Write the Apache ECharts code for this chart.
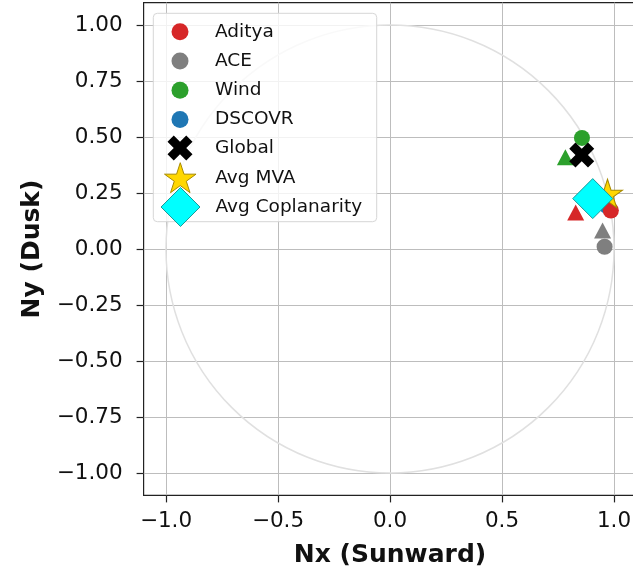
<!DOCTYPE html>
<html>
<head>
<meta charset="utf-8">
<script src="https://cdn.jsdelivr.net/npm/echarts@6/dist/echarts.min.js"></script>
<style>html,body{margin:0;padding:0;background:#fff}#c{width:633px;height:567px}</style>
</head>
<body>
<div id="c"></div>
<script>
// ---- data ----
const spacecraft = ['Aditya', 'ACE', 'Wind', 'DSCOVR'];
const mvaNx = [0.986, 0.958, 0.857, 0.969];
const mvaNy = [0.172, 0.010, 0.496, 0.192];
const copNx = [0.829, 0.949, 0.783, 0.895];
const copNy = [0.163, 0.083, 0.410, 0.215];
const globalNormal = [0.856, 0.420];
const avgMva = [0.971, 0.241];
const avgCoplanarity = [0.905, 0.225];
const unitCircle = [0, 0, 1];
const xTicks = [-1.0, -0.5, 0.0, 0.5, 1.0];
const yTicks = [-1.0, -0.75, -0.5, -0.25, 0.0, 0.25, 0.5, 0.75, 1.0];
const legendNames = ['Aditya', 'ACE', 'Wind', 'DSCOVR', 'Global', 'Avg MVA', 'Avg Coplanarity'];

// ---- styles ----
const scColors = { Aditya: '#d62728', ACE: '#7f7f7f', Wind: '#2ca02c', DSCOVR: '#1f77b4' };
const X_PATH = 'path://M3,0L4,1L3,2L4,3L3,4L2,3L1,4L0,3L1,2L0,1L1,0L2,1Z';
const STAR_PATH = 'path://M100,0L122.45,69.1L195.1,69.1L136.3,111.8L158.8,180.9L100,138.2L41.2,180.9L63.7,111.8L4.9,69.1L77.55,69.1Z';
const FONT = 'DejaVu Sans';
const TXT = '#111';
const minus = s => s.replace('-', '\u2212');

const chart = echarts.init(document.getElementById('c'), null, { renderer: 'canvas' });

const drawOrder = ['DSCOVR', 'Aditya', 'ACE', 'Wind'];
const scSeries = drawOrder.map(name => {
  const i = spacecraft.indexOf(name);
  return {
    type: 'scatter', name, z: 3,
    itemStyle: { color: scColors[name], opacity: 1 },
    data: [
      { value: [mvaNx[i], mvaNy[i]], symbol: 'circle', symbolSize: 16 },
      { value: [copNx[i], copNy[i]], symbol: 'triangle', symbolSize: [17, 16] }
    ]
  };
});

const legendStyle = {
  Aditya: { icon: 'circle', w: 17, h: 17, itemStyle: { color: scColors.Aditya } },
  ACE: { icon: 'circle', w: 17, h: 17, itemStyle: { color: scColors.ACE } },
  Wind: { icon: 'circle', w: 17, h: 17, itemStyle: { color: scColors.Wind } },
  DSCOVR: { icon: 'circle', w: 17, h: 17, itemStyle: { color: scColors.DSCOVR } },
  'Global': { icon: X_PATH, w: 25, h: 25, itemStyle: { color: '#000' } },
  'Avg MVA': { icon: STAR_PATH, w: 32, h: 30, itemStyle: { color: '#ffd700', borderColor: '#a88a00', borderWidth: 1 } },
  'Avg Coplanarity': { icon: 'diamond', w: 39, h: 39, itemStyle: { color: '#00ffff', borderColor: '#1a9a9a', borderWidth: 1 } }
};
const rowY0 = 30.7, rowStep = 29.3, iconCx = 180, textX = 215;
const legends = legendNames.map((name, k) => {
  const st = legendStyle[name];
  const padL = textX - (iconCx + st.w / 2 + 5);
  return {
    left: iconCx - st.w / 2, top: rowY0 + k * rowStep - st.h / 2,
    orient: 'vertical', padding: 0, itemGap: 0, z: 10,
    itemWidth: st.w, itemHeight: st.h, selectedMode: false,
    textStyle: { fontFamily: FONT, fontSize: 18.5, color: TXT, padding: [0, 0, 0, padL] },
    data: [{ name, icon: st.icon, itemStyle: st.itemStyle }]
  };
});

const option = {
  animation: false,
  backgroundColor: '#fff',
  grid: { left: 143.6, top: 2.6, width: 492.8, height: 492.8, outerBoundsMode: 'none', containLabel: false, show: true, borderColor: '#222', borderWidth: 1.2, backgroundColor: 'transparent' },
  legend: legends,
  graphic: [{
    type: 'rect', z: 3, silent: true,
    shape: { x: 153.3, y: 13.3, width: 223.4, height: 208.4, r: 4 },
    style: { fill: 'rgba(255,255,255,0.8)', stroke: '#d6d6d6', lineWidth: 1 }
  }],
  xAxis: {
    type: 'value', min: -1.1, max: 1.1,
    name: 'Nx (Sunward)', nameLocation: 'middle', nameGap: 48,
    nameTextStyle: { fontFamily: FONT, fontSize: 25, fontWeight: 'bold', color: TXT },
    axisLine: { show: false, onZero: false },
    axisTick: { show: true, length: 7, customValues: xTicks, lineStyle: { color: '#222', width: 1.2 } },
    axisLabel: { customValues: xTicks, margin: 15, fontFamily: FONT, fontSize: 21.5, color: TXT, formatter: v => minus(Number(v).toFixed(1)) },
    splitLine: { show: true, customValues: xTicks, lineStyle: { color: '#bdbdbd', width: 1 } }
  },
  yAxis: {
    type: 'value', min: -1.1, max: 1.1,
    name: 'Ny (Dusk)', nameLocation: 'middle', nameGap: 99,
    nameTextStyle: { fontFamily: FONT, fontSize: 25, fontWeight: 'bold', color: TXT },
    axisLine: { show: false, onZero: false },
    axisTick: { show: true, length: 7, customValues: yTicks, lineStyle: { color: '#222', width: 1.2 } },
    axisLabel: { customValues: yTicks, margin: 21, fontFamily: FONT, fontSize: 21.5, color: TXT, formatter: v => minus(Number(v).toFixed(2)) },
    splitLine: { show: true, customValues: yTicks, lineStyle: { color: '#bdbdbd', width: 1 } }
  },
  series: [
    {
      type: 'custom', name: 'unit circle', z: 1, silent: true, clip: false,
      data: [unitCircle],
      renderItem: (params, api) => {
        const c = api.coord([api.value(0), api.value(1)]);
        const s = api.size([api.value(2), api.value(2)]);
        return { type: 'circle', shape: { cx: c[0], cy: c[1], r: s[0] }, style: { fill: 'none', stroke: '#e0e0e0', lineWidth: 1.5 } };
      }
    },
    ...scSeries,
    {
      type: 'scatter', name: 'Global', z: 3, symbol: X_PATH, symbolSize: 25,
      itemStyle: { color: '#000', opacity: 1 }, data: [globalNormal]
    },
    {
      type: 'scatter', name: 'Avg MVA', z: 3, symbol: STAR_PATH, symbolSize: [30, 28.5], symbolOffset: [0, -1.5],
      itemStyle: { color: '#ffd700', borderColor: '#a88a00', borderWidth: 1, opacity: 1 }, data: [avgMva]
    },
    {
      type: 'scatter', name: 'Avg Coplanarity', z: 3, symbol: 'diamond', symbolSize: 40,
      itemStyle: { color: '#00ffff', borderColor: '#1a9a9a', borderWidth: 1, opacity: 1 }, data: [avgCoplanarity]
    }
  ]
};
chart.setOption(option);
</script>
</body>
</html>
